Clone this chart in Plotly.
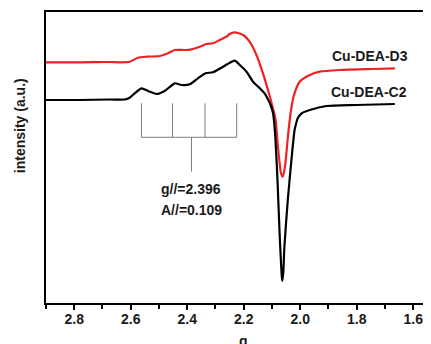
import plotly.graph_objects as go

# ---- data (g value, intensity a.u.) ----
g_c2 = [2.901, 2.781, 2.674, 2.621, 2.604, 2.586, 2.562, 2.539, 2.509, 2.480,
        2.444, 2.421, 2.391, 2.362, 2.335, 2.309, 2.279, 2.257, 2.232, 2.214,
        2.190, 2.167, 2.143, 2.126, 2.110, 2.105, 2.096, 2.089, 2.084, 2.080,
        2.073, 2.067, 2.064, 2.060, 2.056, 2.044, 2.030, 2.020, 2.014, 2.009,
        1.995, 1.966, 1.907, 1.801, 1.665]
i_c2 = [203, 203, 203.5, 203.5, 205.3, 209.7, 214.7, 212, 209, 212,
        219.7, 218, 218.7, 224.7, 229.7, 230.7, 235.3, 239, 242.3, 238,
        231.3, 221.3, 214.7, 209.7, 201.3, 198, 189.7, 169.7, 144, 119.7,
        69.7, 35, 22, 30, 56.3, 103, 146.3, 173, 180, 184.7,
        189.7, 193, 197, 198, 199]

g_d3 = [2.901, 2.781, 2.674, 2.639, 2.604, 2.574, 2.544, 2.497, 2.468, 2.444,
        2.409, 2.385, 2.356, 2.332, 2.309, 2.285, 2.261, 2.250, 2.232, 2.202,
        2.179, 2.155, 2.132, 2.114, 2.098, 2.087, 2.080, 2.068, 2.062, 2.054,
        2.043, 2.034, 2.023, 2.002, 1.966, 1.931, 1.860, 1.743, 1.665]
i_d3 = [240.7, 240.7, 241, 240.7, 241.3, 245.3, 246.3, 247, 249.7, 253,
        253, 253.7, 256.3, 259, 259.7, 263, 266.3, 269, 270.7, 268,
        261.3, 248, 229.7, 213, 196.3, 183, 159.7, 129.7, 126.3, 136.3,
        168, 190, 207, 221.3, 228, 231.3, 233, 234, 234.7]

# hyperfine splitting marker
split_g = [2.562, 2.452, 2.337, 2.225]
split_top = 199.7
split_bar = 165.7
split_center_g = 2.385
split_stem_end = 131.3

x_ticks = [2.8, 2.6, 2.4, 2.2, 2.0, 1.8, 1.6]

FONT = "Liberation Sans, Arial, sans-serif"
TXT = "#1a1a1a"

fig = go.Figure()
fig.add_trace(go.Scatter(x=g_d3, y=i_d3, mode="lines", name="Cu-DEA-D3",
                         line=dict(color="#ee2222", width=2.2, shape="spline", smoothing=0.6)))
fig.add_trace(go.Scatter(x=g_c2, y=i_c2, mode="lines", name="Cu-DEA-C2",
                         line=dict(color="#000000", width=2.2, shape="spline", smoothing=0.6)))

gray = dict(color="#7f7f7f", width=1)
for gx in split_g:
    fig.add_shape(type="line", x0=gx, x1=gx, y0=split_top, y1=split_bar, line=gray)
fig.add_shape(type="line", x0=split_g[0], x1=split_g[-1], y0=split_bar, y1=split_bar, line=gray)
fig.add_shape(type="line", x0=split_center_g, x1=split_center_g, y0=split_bar, y1=split_stem_end, line=gray)

bold = dict(family=FONT, size=14, color=TXT, weight="bold")
fig.add_annotation(x=split_center_g, y=114, text="g//=2.396", showarrow=False, font=bold)
fig.add_annotation(x=split_center_g, y=93, text="A//=0.109", showarrow=False, font=bold)
fig.add_annotation(x=1.754, y=247.3, text="Cu-DEA-D3", showarrow=False, font=bold)
fig.add_annotation(x=1.756, y=210.7, text="Cu-DEA-C2", showarrow=False, font=bold)

fig.add_annotation(xref="paper", yref="paper", x=-0.0657, y=0.61, text="intensity (a.u.)",
                   textangle=-90, showarrow=False, font=bold, xanchor="center", yanchor="middle")
fig.add_annotation(xref="paper", yref="paper", x=0.5117, y=-0.0962, text="g",
                   showarrow=False, font=bold, xanchor="center", yanchor="top")

# the page body has an 8px margin, so the figure is sized/offset to compensate
fig.update_layout(
    width=423, height=336,
    margin=dict(l=38, r=0, t=4, b=41, autoexpand=False),
    paper_bgcolor="white", plot_bgcolor="white",
    showlegend=False,
    xaxis=dict(range=[2.9, 1.537], tickmode="array", tickvals=x_ticks,
               ticktext=[f"{v:.1f}" for v in x_ticks], automargin=False,
               ticks="outside", ticklen=5, tickwidth=1.5, tickcolor="black",
               ticklabelstandoff=-3,
               showline=True, linecolor="black", linewidth=2, mirror=True,
               showgrid=False, zeroline=False,
               tickfont=dict(family=FONT, size=14, color=TXT, weight="bold"),
               minor=dict(dtick=0.1, tick0=0, ticks="outside", ticklen=4,
                          tickwidth=1.5, tickcolor="black", showgrid=False)),
    yaxis=dict(range=[0, 291], showticklabels=False, ticks="", automargin=False,
               showline=True, linecolor="black", linewidth=2,
               showgrid=False, zeroline=False),
)

fig.write_html("out.html")
